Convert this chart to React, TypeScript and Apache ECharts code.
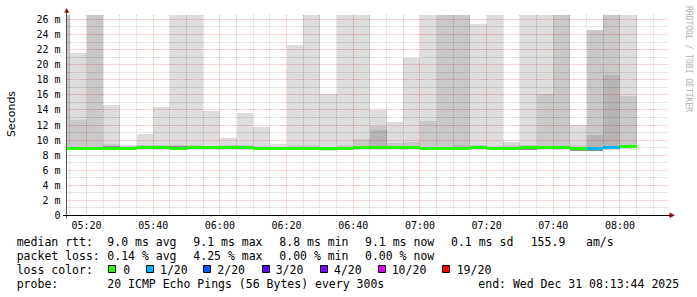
import React, { useEffect, useRef } from "react";
import * as echarts from "echarts";

// ---- data ----
const slotStart = [
  "05:10", "05:15", "05:20", "05:25", "05:30", "05:35", "05:40", "05:45", "05:50", "05:55",
  "06:00", "06:05", "06:10", "06:15", "06:20", "06:25", "06:30", "06:35", "06:40", "06:45",
  "06:50", "06:55", "07:00", "07:05", "07:10", "07:15", "07:20", "07:25", "07:30", "07:35",
  "07:40", "07:45", "07:50", "07:55", "08:00",
];
const SLOT_MIN = 5;
// outermost smoke (max ping), ms
const maxRtt = [
  30, 21.6, 30, 14.6, 9.4, 10.8, 14.4, 30, 30, 13.9,
  10.25, 13.6, 11.75, 9.45, 22.6, 30, 16.1, 30, 30, 14.05,
  12.4, 20.9, 30, 30, 30, 25.4, 30, 9.7, 30, 30,
  30, 12.0, 24.6, 30, 30,
];
// second smoke band top
const midRtt = [
  30, 12.6, 30, 9.5, 9.2, 9.3, 9.3, 9.3, 9.3, 9.2,
  9.4, 9.4, 9.15, 9.1, 9.3, 9.4, 9.1, 9.3, 10.1, 11.85,
  9.6, 9.7, 12.5, 30, 30, 9.3, 9.2, 9.4, 9.3, 16.1,
  30, 9.4, 24.6, 30, 15.85,
];
// third smoke band top
const darkRtt = [
  null, null, null, null, null, null, null, null, null, null,
  null, null, null, null, null, null, null, null, null, 11.3,
  null, null, null, null, 9.4, null, null, null, null, null,
  null, null, 10.65, 18.6, null,
];
// innermost smoke band (near median)
const innerLo = [
  null, null, null, 9.08, null, null, null, 9.1, null, null,
  null, null, null, null, null, null, 8.62, null, null, null,
  null, null, null, null, null, null, null, null, 8.68, null,
  null, 8.58, 8.58, null, null,
];
const innerHi = [
  null, null, null, 9.22, null, null, null, 9.25, null, null,
  null, null, null, null, null, null, 8.76, null, null, null,
  null, null, null, null, null, null, null, null, 8.82, null,
  null, 8.71, 8.71, null, null,
];
const minRtt = [
  8.66, 8.66, 8.64, 8.66, 8.66, 8.7, 8.7, 8.66, 8.7, 8.7,
  8.7, 8.7, 8.66, 8.64, 8.62, 8.66, 8.6, 8.64, 8.7, 8.7,
  8.72, 8.7, 8.66, 8.66, 8.64, 8.7, 8.64, 8.68, 8.64, 8.7,
  8.7, 8.56, 8.56, 8.7, 8.86,
];
const medianRtt = [
  8.93, 8.93, 8.86, 8.9, 8.88, 8.97, 8.96, 8.93, 9.0, 8.98,
  8.96, 8.97, 8.93, 8.86, 8.84, 8.93, 8.93, 8.9, 8.97, 9.0,
  9.04, 8.96, 8.93, 8.93, 8.9, 8.98, 8.88, 8.95, 9.0, 8.96,
  8.96, 8.88, 8.88, 8.96, 9.1,
];
// index into lossLegend
const lossIdx = [
  0, 0, 0, 0, 0, 0, 0, 0, 0, 0,
  0, 0, 0, 0, 0, 0, 0, 0, 0, 0,
  0, 0, 0, 0, 0, 0, 0, 0, 0, 0,
  0, 0, 1, 1, 0,
];

const xTickLabels = ["05:20", "05:40", "06:00", "06:20", "06:40", "07:00", "07:20", "07:40", "08:00"];
const yTickValues = [0, 2, 4, 6, 8, 10, 12, 14, 16, 18, 20, 22, 24, 26];
const AXIS_START = "05:14:00";
const AXIS_END = "08:14:24";
const Y_MAX = 26.6;

const lossLegend = [
  { label: "0", color: "#26ff00" },
  { label: "1/20", color: "#00b8ff" },
  { label: "2/20", color: "#0059ff" },
  { label: "3/20", color: "#5e00ff" },
  { label: "4/20", color: "#7e00ff" },
  { label: "10/20", color: "#dd00ff" },
  { label: "19/20", color: "#ff0000" },
];

const rttStats = ["9.0 ms avg", "9.1 ms max", "8.8 ms min", "9.1 ms now", "0.1 ms sd", "155.9", "am/s"];
const lossStats = ["0.14 % avg", "4.25 % max", "0.00 % min", "0.00 % now"];
const probeText = "20 ICMP Echo Pings (56 Bytes) every 300s";
const endText = "end: Wed Dec 31 08:13:44 2025";

// ---- layout / style ----
const BAND_COLORS = ["#dddddd", "#c8c8c8", "#b5b5b5", "#8c8c8c"];
const MONO = '"DejaVu Sans Mono", monospace';
const statX = [107.3, 193.3, 279.3, 365, 451, 530.7, 586];
const lossSqX = [108.3, 146, 203.3, 261.7, 320, 377.7, 442.3];
const lossLblX = [123.3, 160, 217.3, 275.7, 334, 391.7, 456.7];
const rowY = [241.5, 255.5, 269.5, 283.8];

const parseHM = (s: string) => {
  const p = s.split(":").map(Number);
  return p[0] * 60 + p[1] + (p[2] || 0) / 60;
};
const fmtHM = (v: number) => {
  const h = Math.floor(v / 60);
  const m = Math.round(v - h * 60);
  return `${String(h).padStart(2, "0")}:${String(m).padStart(2, "0")}`;
};

export default function App() {
  const ref = useRef<HTMLDivElement>(null);
  useEffect(() => {
    if (!ref.current) return;
    const chart = echarts.init(ref.current, undefined, { renderer: "svg" });
    const X_MIN = parseHM(AXIS_START);
    const X_MAX = parseHM(AXIS_END);

    const bandData: number[][] = [];
    const medData: number[][] = [];
    slotStart.forEach((s, i) => {
      const t0 = parseHM(s);
      const t1 = t0 + SLOT_MIN;
      const med = medianRtt[i];
      bandData.push([t0, t1, minRtt[i], maxRtt[i], 0]);
      bandData.push([t0, t1, med, midRtt[i], 1]);
      if (darkRtt[i] != null) bandData.push([t0, t1, med, darkRtt[i] as number, 2]);
      if (innerLo[i] != null) bandData.push([t0, t1, innerLo[i] as number, innerHi[i] as number, 3]);
      medData.push([t0, t1, med, lossIdx[i]]);
    });

    const gridData: number[][] = [];
    for (let m = Math.ceil(X_MIN / 5) * 5; m < X_MAX; m += 5) gridData.push([0, m, m % 20 === 0 ? 1 : 0]);
    for (let v = 1; v <= Math.floor(Y_MAX); v++) gridData.push([1, v, v % 2 === 0 ? 1 : 0]);

    const clampRect = (cs: any, x0: number, x1: number, yTop: number, yBot: number) => {
      const left = Math.round(Math.max(x0, cs.x));
      const right = Math.round(Math.min(x1, cs.x + cs.width));
      const top = Math.round(Math.max(yTop, cs.y));
      const bot = Math.round(Math.min(yBot, cs.y + cs.height));
      if (right <= left || bot <= top) return null;
      return { x: left, y: top, width: right - left, height: bot - top };
    };

    const txt = (text: string, x: number, y: number, extra: any = {}) => ({
      type: "text",
      silent: true,
      style: {
        text, x, y, fill: "#000", font: `11.5px ${MONO}`,
        align: "left", textAlign: "left", verticalAlign: "middle", textVerticalAlign: "middle",
        ...extra,
      },
    });

    const graphics: any[] = [
      // axis lines + arrows
      { type: "line", silent: true, shape: { x1: 66.5, y1: 12, x2: 66.5, y2: 218.5 }, style: { stroke: "#555", lineWidth: 1 } },
      { type: "line", silent: true, shape: { x1: 63, y1: 215.5, x2: 670, y2: 215.5 }, style: { stroke: "#000", lineWidth: 1 } },
      { type: "polygon", silent: true, shape: { points: [[64.2, 12.8], [69.2, 12.8], [66.7, 8]] }, style: { fill: "#8b1010" } },
      { type: "polygon", silent: true, shape: { points: [[669.5, 212.5], [669.5, 218], [675, 215.3]] }, style: { fill: "#8b1010" } },
      // titles
      {
        type: "text", silent: true, x: 11, y: 114, rotation: Math.PI / 2,
        style: { text: "Seconds", fill: "#000", font: '11px "DejaVu Sans", sans-serif', align: "center", textAlign: "center", verticalAlign: "middle", textVerticalAlign: "middle" },
      },
      {
        type: "text", silent: true, x: 688, y: 59, rotation: -Math.PI / 2,
        style: { text: "RRDTOOL / TOBI OETIKER", fill: "#b0b0b0", font: `8px ${MONO}`, align: "center", textAlign: "center", verticalAlign: "middle", textVerticalAlign: "middle" },
      },
      txt("median rtt:", 16.7, rowY[0]),
      txt("packet loss:", 16.7, rowY[1]),
      txt("loss color:", 16.7, rowY[2]),
      txt("probe:", 16.7, rowY[3]),
      txt(probeText, 107.3, rowY[3]),
      txt(endText, 478.3, rowY[3]),
    ];
    rttStats.forEach((s, i) => graphics.push(txt(s, statX[i], rowY[0])));
    lossStats.forEach((s, i) => graphics.push(txt(s, statX[i], rowY[1])));
    lossLegend.forEach((l, i) => {
      graphics.push({
        type: "rect", silent: true,
        shape: { x: Math.round(lossSqX[i]) + 0.5, y: 265.5, width: 7, height: 7 },
        style: { fill: l.color, stroke: "#000", lineWidth: 1 },
      });
      graphics.push(txt(l.label, lossLblX[i], rowY[2]));
    });

    const option: any = {
      animation: false,
      backgroundColor: "#ffffff",
      grid: { left: 66.5, right: 29, top: 14.9, bottom: 81.5, containLabel: false },
      xAxis: {
        type: "value", min: X_MIN, max: X_MAX, z: 4,
        axisLine: { show: false }, axisTick: { show: false }, splitLine: { show: false },
        axisLabel: {
          customValues: xTickLabels.map(parseHM), formatter: (v: number) => fmtHM(v),
          fontFamily: MONO, fontSize: 10, color: "#000", margin: 5,
        },
      },
      yAxis: {
        type: "value", min: 0, max: Y_MAX, z: 4,
        axisLine: { show: false }, axisTick: { show: false }, splitLine: { show: false },
        axisLabel: {
          customValues: yTickValues, formatter: (v: number) => (v === 0 ? "0" : `${v} m`),
          fontFamily: MONO, fontSize: 10, color: "#000", margin: 6,
        },
      },
      series: [
        {
          type: "custom", name: "smoke", z: 1, silent: true,
          renderItem: (params: any, api: any) => {
            const cs = params.coordSys;
            const x0 = api.coord([api.value(0), 0])[0];
            const x1 = api.coord([api.value(1), 0])[0];
            const yTop = api.coord([X_MIN, api.value(3)])[1];
            const yBot = api.coord([X_MIN, api.value(2)])[1];
            const r = clampRect(cs, x0, x1, yTop, yBot);
            if (!r) return null;
            return { type: "rect", shape: r, style: { fill: BAND_COLORS[api.value(4)] } };
          },
          data: bandData,
        },
        {
          type: "custom", name: "grid", z: 2, silent: true,
          renderItem: (params: any, api: any) => {
            const cs = params.coordSys;
            const orient = api.value(0);
            const v = api.value(1);
            const major = api.value(2) === 1;
            const stroke = major ? "rgba(210,0,0,0.32)" : "rgba(0,0,0,0.2)";
            if (orient === 0) {
              const x = Math.floor(api.coord([v, 0])[0]) + 0.5;
              return { type: "line", shape: { x1: x, y1: cs.y, x2: x, y2: cs.y + cs.height }, style: { stroke, lineWidth: 1, lineDash: [1, 1] } };
            }
            const y = Math.floor(api.coord([X_MIN, v])[1]) + 0.5;
            return { type: "line", shape: { x1: cs.x, y1: y, x2: cs.x + cs.width, y2: y }, style: { stroke, lineWidth: 1, lineDash: [1, 1] } };
          },
          data: gridData,
        },
        {
          type: "custom", name: "median", z: 3, silent: true,
          renderItem: (params: any, api: any) => {
            const cs = params.coordSys;
            const x0 = api.coord([api.value(0), 0])[0];
            const x1 = api.coord([api.value(1), 0])[0];
            const yc = api.coord([X_MIN, api.value(2)])[1];
            const r = clampRect(cs, x0, x1, yc - 1.5, yc + 1.5);
            if (!r) return null;
            return { type: "rect", shape: r, style: { fill: lossLegend[api.value(3)].color } };
          },
          data: medData,
        },
      ],
      graphic: graphics,
    };
    chart.setOption(option);
    return () => chart.dispose();
  }, []);
  return (
    <div
      ref={ref}
      style={{ position: "fixed", left: 0, top: 0, width: 697, height: 297, background: "#fff" }}
    />
  );
}
